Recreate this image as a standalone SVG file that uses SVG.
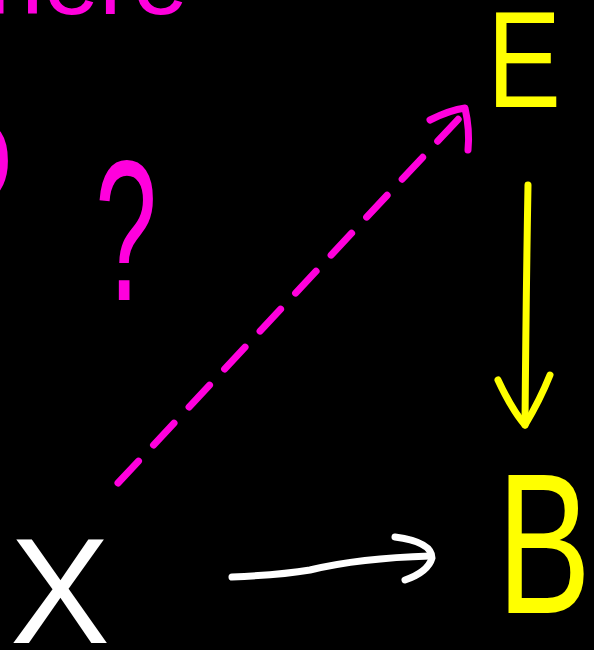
<svg xmlns="http://www.w3.org/2000/svg" width="594" height="650" viewBox="0 0 594 650">
<style>
.lbl{font-family:"Liberation Sans","DejaVu Sans",sans-serif;}
.mag{fill:#ff00dd;}
.yel{fill:#ffff00;}
.wht{fill:#ffffff;}
.c{fill:none;stroke-linecap:round;stroke-linejoin:round;}
.cm{stroke:#ff00dd;stroke-width:7;}
.cy{stroke:#ffff00;stroke-width:7;}
.cw{stroke:#ffffff;stroke-width:7;}
</style>
<rect width="594" height="650" fill="#000000"/>
<g id="node-title">
<text class="lbl mag" x="188" y="14" font-size="100" text-anchor="end">Where</text>
</g>
<g id="node-q-left">
<text class="lbl mag" x="-50" y="262" font-size="200" textLength="62" lengthAdjust="spacingAndGlyphs">?</text>
</g>
<g id="node-q">
<text class="lbl mag" x="95" y="300" font-size="200" textLength="62" lengthAdjust="spacingAndGlyphs">?</text>
</g>
<g id="node-E">
<text class="lbl yel" x="487" y="107" font-size="138" textLength="74" lengthAdjust="spacingAndGlyphs">E</text>
</g>
<g id="node-B">
<text class="lbl yel" x="497" y="613" font-size="200" textLength="94" lengthAdjust="spacingAndGlyphs">B</text>
</g>
<g id="node-X">
<text class="lbl wht" x="10" y="643" font-size="150" textLength="100" lengthAdjust="spacingAndGlyphs">X</text>
</g>
<g id="connectors">
<path class="c cm" d="M118,483 L465,112" stroke-dasharray="30,22"/>
<path class="c cm" d="M430,120 Q450,110 465,108 Q470,130 468,150"/>
<path class="c cy" d="M528,185 Q526,300 525,425"/>
<path class="c cy" d="M498,380 Q512,410 525,425 Q540,400 550,375"/>
<path class="c cw" d="M232,577 Q280,575 310,570 Q360,558 430,556"/>
<path class="c cw" d="M395,537 Q432,542 432,558 Q428,572 405,580"/>
</g>
</svg>
